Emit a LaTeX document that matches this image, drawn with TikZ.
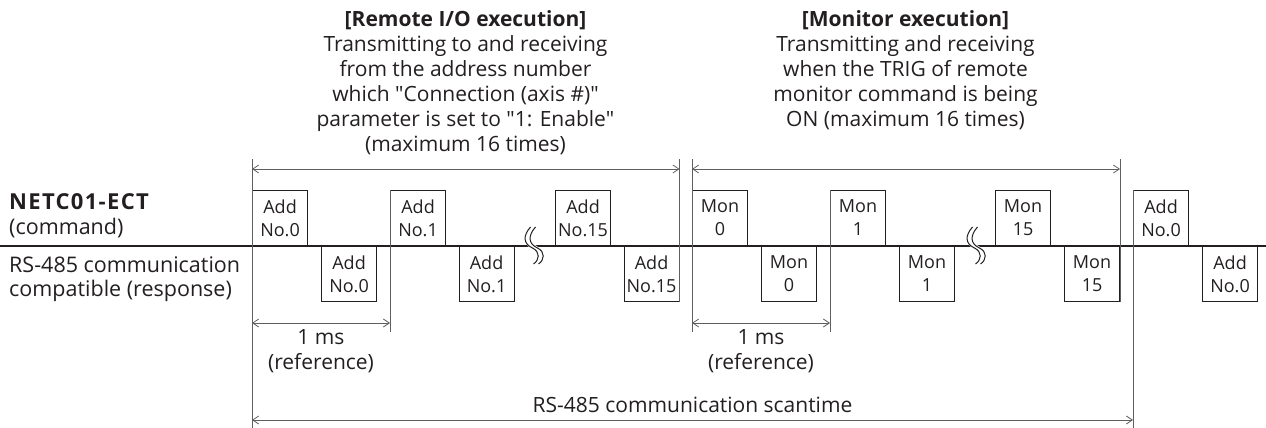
\documentclass[tikz,border=0pt]{standalone}
\usepackage{fontspec}
\setmainfont{Open Sans}
\usepackage{tikz}
\usetikzlibrary{positioning,arrows.meta,calc}
\definecolor{ink}{HTML}{231F20}
\definecolor{guidegrey}{HTML}{5E5F61}
\tikzset{
    slot/.style={rectangle, draw=ink, line width=1.1pt, minimum width=55pt, minimum height=55pt, inner sep=0pt, align=center, font=\fontsize{18}{23}\selectfont, text=ink},
    upslot/.style={slot, anchor=south west},
    downslot/.style={slot, anchor=north west},
    heading/.style={align=center, inner sep=0pt, font=\fontsize{21}{25}\selectfont, text=ink},
    timeline/.style={line width=1.1pt, draw=ink},
    guide/.style={line width=0.8pt, draw=guidegrey},
    dim/.style={{Straight Barb[length=6pt,width=8pt]}-{Straight Barb[length=6pt,width=8pt]}, line width=0.8pt, draw=guidegrey},
    squig/.style={line width=1pt, draw=ink}
}

\begin{document}
\begin{tikzpicture}[x=1pt, y=-1pt]
\useasboundingbox (0,0) rectangle (1266,428);

% ── Headings ──
\node[heading, anchor=north] (remote) at (465.5,10) {\textbf{[Remote I/O execution]}\\Transmitting to and receiving\\from the address number\\which \textquotedbl Connection (axis \#)\textquotedbl\\parameter is set to \textquotedbl 1: Enable\textquotedbl\\(maximum 16 times)};
\node[heading, anchor=north] (monitor) at (905.5,10) {\textbf{[Monitor execution]}\\Transmitting and receiving\\when the TRIG of remote\\monitor command is being\\ON (maximum 16 times)};

% ── Signal names ──
\node[heading, anchor=west, font=\bfseries\fontsize{22}{25}\selectfont\addfontfeature{LetterSpace=6}] (master) at (9,202) {NETC01-ECT};
\node[heading, anchor=west, font=\fontsize{21.5}{25}\selectfont] (masterrole) at (9,228) {(command)};
\node[heading, anchor=west, align=left, font=\fontsize{21.5}{24}\selectfont] (slave) at (9,279) {RS-485 communication\\compatible (response)};

% ── Time axis ──
\coordinate (t0) at (0,246);
\coordinate (t1) at (1266,246);
\draw[timeline] (t0) -- (t1);

% ── Remote I/O frames ──
\node[upslot] (ra0) at (252,246) {Add\\No.0};
\node[downslot] (rb0) at (321,246) {Add\\No.0};
\node[upslot] (ra1) at (390,246) {Add\\No.1};
\node[downslot] (rb1) at (458.5,246) {Add\\No.1};
\node[upslot] (ra15) at (555,246) {Add\\No.15};
\node[downslot] (rb15) at (623.5,246) {Add\\No.15};

% ── Monitor frames ──
\node[upslot] (ma0) at (692,246) {Mon\\0};
\node[downslot] (mb0) at (761,246) {Mon\\0};
\node[upslot] (ma1) at (830,246) {Mon\\1};
\node[downslot] (mb1) at (899,246) {Mon\\1};
\node[upslot] (ma15) at (995,246) {Mon\\15};
\node[downslot] (mb15) at (1064,246) {Mon\\15};

% ── Next cycle ──
\node[upslot] (na0) at (1133,246) {Add\\No.0};
\node[downslot] (nb0) at (1202,246) {Add\\No.0};

% ── Omission marks ──
\coordinate (gap1) at (534,246);
\coordinate (gap2) at (976,246);
\draw[white, line width=5pt, shift={(gap1)}] (-1,-19) .. controls (-9,-10) and (-8,-2) .. (1,2) .. controls (9,6) and (8,14) .. (2,18);
\draw[squig, shift={(gap1)}, xshift=-2.5pt] (-1,-19) .. controls (-9,-10) and (-8,-2) .. (1,2) .. controls (9,6) and (8,14) .. (2,18);
\draw[squig, shift={(gap1)}, xshift=2.5pt] (-1,-19) .. controls (-9,-10) and (-8,-2) .. (1,2) .. controls (9,6) and (8,14) .. (2,18);
\draw[white, line width=5pt, shift={(gap2)}] (-1,-19) .. controls (-9,-10) and (-8,-2) .. (1,2) .. controls (9,6) and (8,14) .. (2,18);
\draw[squig, shift={(gap2)}, xshift=-2.5pt] (-1,-19) .. controls (-9,-10) and (-8,-2) .. (1,2) .. controls (9,6) and (8,14) .. (2,18);
\draw[squig, shift={(gap2)}, xshift=2.5pt] (-1,-19) .. controls (-9,-10) and (-8,-2) .. (1,2) .. controls (9,6) and (8,14) .. (2,18);

% ── Guide lines ──
\coordinate (guidetop) at (0,159);
\coordinate (dimrow) at (0,169);
\coordinate (msrow) at (0,323);
\coordinate (msbot) at (0,332);
\coordinate (scanrow) at (0,420);
\coordinate (scanbot) at (0,428);
\draw[guide] (ra0.south west |- guidetop) -- (ra0.south west |- scanbot);
\draw[guide] (ra1.north west) -- (ra1.north west |- msbot);
\draw[guide] (rb15.south east) -- (rb15.south east |- guidetop);
\draw[guide] (ma0.south west |- guidetop) -- (ma0.south west |- msbot);
\draw[guide] (ma1.north west) -- (ma1.north west |- msbot);
\draw[guide] (mb15.south east) -- (mb15.south east |- guidetop);
\draw[guide] (na0.north west) -- (na0.north west |- scanbot);

% ── Dimensions ──
\draw[dim] (ra0.south west |- dimrow) -- (rb15.south east |- dimrow);
\draw[dim] (ma0.south west |- dimrow) -- (mb15.south east |- dimrow);
\draw[dim] (ra0.south west |- msrow) -- node[heading, below=6pt] (rms) {1 ms\\(reference)} (ra1.north west |- msrow);
\draw[dim] (ma0.south west |- msrow) -- node[heading, below=6pt] (mms) {1 ms\\(reference)} (ma1.north west |- msrow);
\draw[dim] (ra0.south west |- scanrow) -- node[heading, above=7pt] (scan) {RS-485 communication scantime} (na0.north west |- scanrow);

\end{tikzpicture}
\end{document}
